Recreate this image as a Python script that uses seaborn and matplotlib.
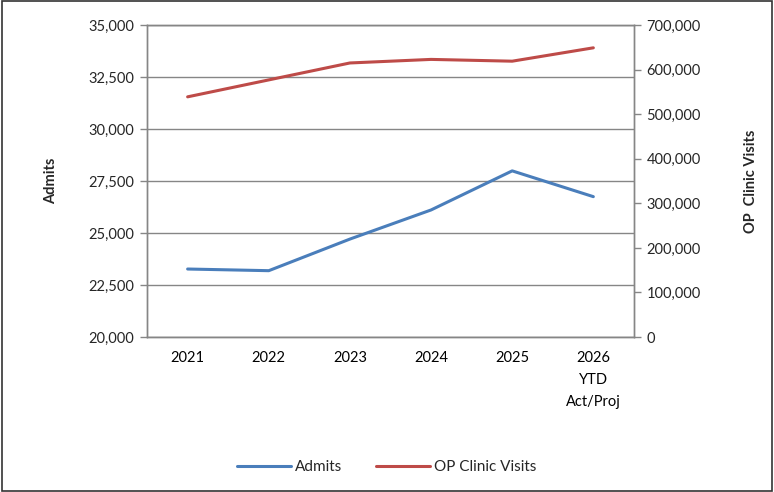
import matplotlib
matplotlib.use("Agg")
import matplotlib.pyplot as plt
import matplotlib.ticker as mticker
from matplotlib.patches import Rectangle
import seaborn as sns
import pandas as pd

# data
years = ["2021", "2022", "2023", "2024", "2025", "2026\nYTD\nAct/Proj"]
admits = [23270, 23190, 24710, 26110, 27990, 26750]
op_visits = [539000, 577000, 615000, 623000, 619000, 649000]

sns.set_theme(style="white")
plt.rcParams['font.family'] = ['Lato', 'DejaVu Sans']

df = pd.DataFrame({"year": years, "admits": admits, "op": op_visits})

blue = "#4A7EBB"
red = "#BE4B48"
grid_col = "#868686"
fs = 10.5

fig = plt.figure(figsize=(7.74, 4.92), dpi=100)
ax = fig.add_axes([0.19, 0.315, 0.629, 0.634])
ax2 = ax.twinx()

sns.lineplot(data=df, x="year", y="admits", ax=ax, color=blue, linewidth=2.2,
             label="Admits", legend=False, sort=False)
sns.lineplot(data=df, x="year", y="op", ax=ax2, color=red, linewidth=2.2,
             label="OP Clinic Visits", legend=False, sort=False)

ax.set_ylim(20000, 35000)
ax.set_yticks(range(20000, 35001, 2500))
ax.yaxis.set_major_formatter(mticker.StrMethodFormatter("{x:,.0f}"))
ax2.set_ylim(0, 700000)
ax2.set_yticks(range(0, 700001, 100000))
ax2.yaxis.set_major_formatter(mticker.StrMethodFormatter("{x:,.0f}"))

ax.set_xlim(-0.5, len(years) - 0.5)
ax.set_xticks(range(len(years)))
ax.set_xticklabels(years, linespacing=1.75)
ax.set_xticks([i - 0.5 for i in range(len(years) + 1)], minor=True)
ax.tick_params(axis="x", which="major", length=0, pad=10, labelsize=fs, colors="black")
ax.tick_params(axis="x", which="minor", length=5, width=1, color=grid_col, direction="out")
ax.tick_params(axis="y", length=5, width=1, color=grid_col, direction="out", labelsize=fs, pad=4)
ax2.tick_params(axis="y", length=5, width=1, color=grid_col, direction="out", labelsize=fs, pad=4)

ax.grid(True, axis="y", color=grid_col, linewidth=1)
ax.grid(False, axis="x")
ax2.grid(False)
for a in (ax, ax2):
    for s in a.spines.values():
        s.set_color(grid_col)
        s.set_linewidth(1)

ax.set_xlabel("")
ax.set_ylabel("Admits", fontsize=fs, fontweight="bold", labelpad=22)
ax2.set_ylabel("OP  Clinic Visits", fontsize=fs, fontweight="bold", rotation=90, labelpad=31)

h1, l1 = ax.get_legend_handles_labels()
h2, l2 = ax2.get_legend_handles_labels()
fig.legend(h1 + h2, l1 + l2, loc="center", bbox_to_anchor=(0.5, 0.05), ncol=2,
           frameon=False, fontsize=11, handlelength=3.5, columnspacing=2.2,
           handletextpad=0.3)

fig.patches.append(Rectangle((0.002, 0.003), 0.995, 0.994, transform=fig.transFigure,
                             fill=False, edgecolor="#333333", linewidth=1.2))

fig.savefig("out.png", dpi=100)
